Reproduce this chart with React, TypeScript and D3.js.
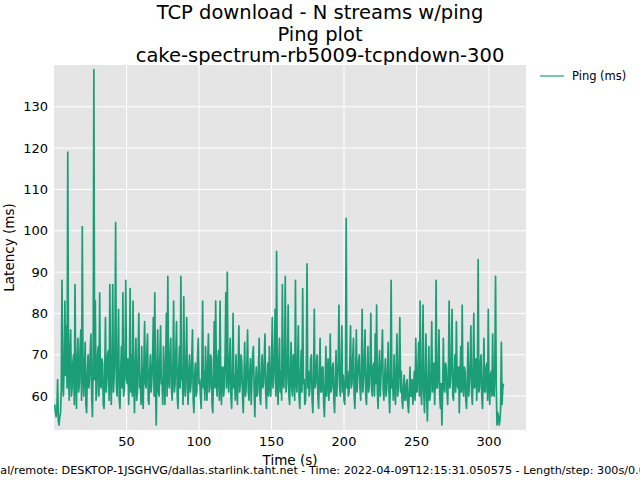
import React from 'react';
import * as d3 from 'd3';

// ping samples every half second (t = 0.5s, 1.0s, ...)
const pingStart = 0.5;
const pingStep = 0.5;
const ping0to99 = [
  58, 56, 55, 57, 64, 54, 53, 55, 56, 61, 88, 63, 60, 68, 83, 65, 77, 62, 119, 66,
  59, 71, 76, 60, 62, 68, 70, 58, 87, 64, 57, 69, 74, 61, 63, 72, 76, 59, 101, 65,
  60, 67, 73, 58, 56, 66, 70, 62, 64, 71, 75, 60, 55, 68, 139, 64, 83, 59, 61, 70,
  72, 60, 85, 63, 62, 69, 68, 58, 57, 66, 79, 61, 64, 70, 71, 59, 87, 65, 58, 67,
  87, 61, 65, 70, 102, 63, 60, 68, 81, 59, 57, 66, 72, 62, 85, 60, 62, 69, 88, 64,
  63, 69, 58, 65, 86, 61, 70, 60, 83, 64, 56, 67, 74, 59, 61, 70, 80, 62, 65, 58,
  72, 61, 57, 68, 78, 63, 62, 70, 75, 59, 58, 66, 70, 61, 64, 69, 79, 60, 85, 63,
  53, 66, 76, 61, 60, 69, 77, 63, 64, 58, 72, 65, 58, 68, 80, 60, 89, 64, 62, 70,
  74, 62, 59, 67, 83, 61, 63, 70, 78, 60, 57, 66, 72, 62, 89, 64, 65, 58, 84, 63,
  60, 68, 79, 62, 58, 66, 70, 61, 63, 69, 76, 59, 56, 65, 68, 60, 61, 70, 74, 63,
];
const ping100to199 = [
  64, 60, 57, 67, 83, 62, 66, 59, 72, 64, 59, 68, 75, 61, 62, 70, 69, 58, 56, 65,
  78, 62, 83, 64, 60, 69, 71, 59, 83, 63, 58, 67, 67, 60, 63, 70, 85, 62, 90, 65,
  61, 68, 74, 60, 57, 66, 80, 62, 65, 59, 70, 63, 58, 67, 77, 61, 63, 70, 68, 60,
  56, 64, 73, 60, 62, 68, 76, 61, 59, 66, 69, 58, 64, 70, 72, 62, 55, 63, 67, 60,
  61, 67, 74, 60, 58, 65, 70, 62, 63, 69, 75, 61, 57, 64, 68, 60, 72, 63, 60, 67,
  79, 62, 64, 70, 81, 60, 95, 64, 58, 67, 74, 61, 66, 59, 87, 63, 62, 69, 89, 61,
  63, 68, 82, 60, 58, 66, 73, 62, 60, 70, 69, 59, 88, 64, 61, 67, 77, 60, 57, 65,
  71, 61, 86, 63, 64, 58, 59, 67, 92, 62, 66, 60, 62, 69, 70, 59, 56, 64, 81, 62,
  63, 68, 70, 60, 57, 65, 74, 61, 61, 67, 67, 58, 55, 63, 72, 60, 64, 69, 59, 62,
  75, 61, 62, 67, 68, 59, 56, 64, 71, 60, 64, 68, 82, 62, 60, 66, 77, 61, 65, 59,
];
const ping200to309 = [
  58, 66, 103, 62, 66, 60, 61, 68, 77, 62, 63, 69, 74, 60, 57, 65, 76, 61, 65, 68,
  70, 62, 59, 66, 81, 61, 64, 69, 76, 60, 58, 65, 72, 61, 63, 68, 80, 62, 60, 67,
  68, 60, 75, 63, 82, 61, 57, 66, 71, 60, 65, 69, 76, 62, 59, 64, 69, 60, 62, 67,
  73, 61, 56, 65, 88, 62, 64, 59, 70, 63, 58, 67, 75, 60, 62, 68, 79, 61, 66, 59,
  57, 62, 65, 59, 59, 63, 64, 58, 56, 61, 67, 60, 60, 64, 58, 62, 66, 59, 74, 61,
  61, 67, 73, 60, 83, 62, 58, 65, 82, 61, 56, 64, 75, 60, 54, 63, 72, 59, 60, 66,
  78, 61, 63, 68, 58, 64, 88, 62, 62, 67, 76, 60, 57, 63, 53, 61, 74, 62, 61, 68,
  67, 61, 58, 66, 83, 62, 64, 69, 81, 60, 59, 65, 70, 61, 78, 63, 62, 67, 56, 64,
  72, 61, 82, 63, 60, 67, 66, 59, 57, 64, 73, 60, 63, 68, 77, 61, 58, 65, 80, 62,
  64, 69, 59, 65, 93, 61, 62, 68, 70, 60, 57, 64, 74, 61, 61, 67, 68, 59, 81, 63,
  58, 65, 66, 60, 75, 61, 60, 67, 89, 62, 53, 56, 55, 53, 54, 57, 73, 58, 62, 63,
];

const xTicks = [50, 100, 150, 200, 250, 300];
const yTicks = [60, 70, 80, 90, 100, 110, 120, 130];
const titleLines = ['TCP download - N streams w/ping', 'Ping plot', 'cake-spectrum-rb5009-tcpndown-300'];
const seriesName = 'Ping (ms)';
const footer =
  'Local/remote: DESKTOP-1JSGHVG/dallas.starlink.taht.net - Time: 2022-04-09T12:15:31.050575 - Length/step: 300s/0.05s';

const W = 640;
const H = 480;
const margin = { top: 65, right: 114, bottom: 50, left: 54 };
const color = '#1b9e77';
const font = '"DejaVu Sans", sans-serif';

export default function App() {
  const values = [...ping0to99, ...ping100to199, ...ping200to309];
  const data = values.map((v, i) => ({ t: pingStart + i * pingStep, v }));

  const innerW = W - margin.left - margin.right;
  const innerH = H - margin.top - margin.bottom;

  const x = d3.scaleLinear().domain([0, 325.5]).range([0, innerW]);
  const y = d3.scaleLinear().domain([51.8, 140.1]).range([innerH, 0]);

  const line = d3
    .line<{ t: number; v: number }>()
    .x((d) => x(d.t))
    .y((d) => y(d.v));

  return (
    <svg
      width={W}
      height={H}
      style={{ position: 'absolute', left: 0, top: 0, background: '#fff' }}
      fontFamily={font}
    >
      {titleLines.map((s, i) => (
        <text key={s} x={320} y={19 + i * 21.7} textAnchor="middle" fontSize={19.5} fill="#000">
          {s}
        </text>
      ))}

      <g transform={`translate(${margin.left},${margin.top})`}>
        <rect width={innerW} height={innerH} fill="#e5e5e5" />
        {xTicks.map((t) => (
          <line key={'gx' + t} x1={x(t)} x2={x(t)} y1={0} y2={innerH} stroke="#fff" strokeWidth={1} />
        ))}
        {yTicks.map((t) => (
          <line key={'gy' + t} x1={0} x2={innerW} y1={y(t)} y2={y(t)} stroke="#fff" strokeWidth={1} />
        ))}
        <clipPath id="plotclip">
          <rect width={innerW} height={innerH} />
        </clipPath>
        <path
          d={line(data) ?? ''}
          fill="none"
          stroke={color}
          strokeWidth={1.7}
          strokeLinejoin="round"
          clipPath="url(#plotclip)"
        />

        {xTicks.map((t) => (
          <text key={'tx' + t} x={x(t)} y={innerH + 16} textAnchor="middle" fontSize={13} fill="#000">
            {t}
          </text>
        ))}
        {yTicks.map((t) => (
          <text key={'ty' + t} x={-6} y={y(t)} dy="0.35em" textAnchor="end" fontSize={13} fill="#000">
            {t}
          </text>
        ))}
        <text x={innerW / 2} y={innerH + 35} textAnchor="middle" fontSize={13.5} fill="#000">
          Time (s)
        </text>
        <text
          transform={`translate(${-40},${innerH / 2}) rotate(-90)`}
          textAnchor="middle"
          fontSize={13.5}
          fill="#000"
        >
          Latency (ms)
        </text>
      </g>

      <line x1={540} x2={564} y1={76} y2={76} stroke={color} strokeWidth={1.2} />
      <text x={572} y={76} dy="0.35em" fontSize={11.5} fill="#000">
        {seriesName}
      </text>

      <text x={320} y={474} textAnchor="middle" fontSize={11.2} fill="#000">
        {footer}
      </text>
    </svg>
  );
}
